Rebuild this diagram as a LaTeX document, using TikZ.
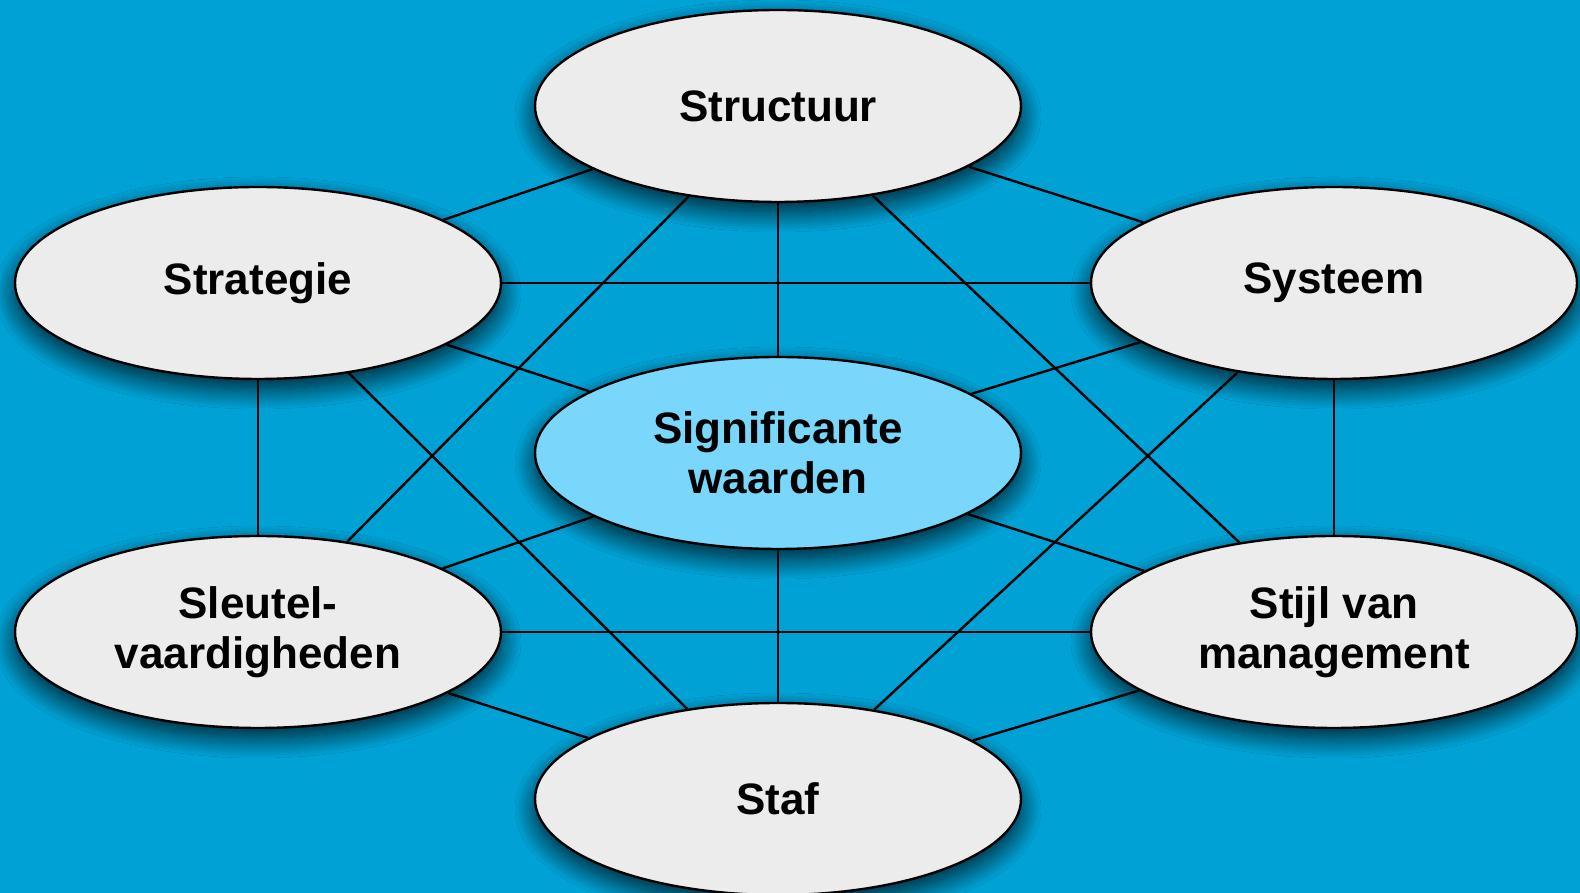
\documentclass[tikz,border=0pt]{standalone}
\usepackage{fontspec}
\setmainfont{Liberation Sans}
\usepackage{xcolor}
\usetikzlibrary{shapes.geometric,shadows.blur,backgrounds}
\definecolor{sevenblue}{RGB}{0, 161, 212}
\definecolor{sevengrey}{RGB}{236, 236, 236}
\definecolor{sevenlight}{RGB}{122, 215, 252}

\begin{document}
\begin{tikzpicture}[x=1pt, y=1pt,
    element/.style={ellipse, draw=black, line width=1.2pt, fill=sevengrey,
        minimum width=243pt, minimum height=96pt, inner sep=0pt,
        font=\fontsize{22}{25}\selectfont\bfseries, align=center,
        blur shadow={shadow xshift=0pt, shadow yshift=-5pt,
            shadow blur radius=10pt, shadow blur steps=20, shadow opacity=80}},
    link/.style={draw=black, line width=1.2pt}]
    \useasboundingbox (0,0) rectangle (790,446.5);

    % outer elements
    \node[element] (structuur) at (389,393.5) {Structuur};
    \node[element] (strategie) at (129,305) {Strategie};
    \node[element] (systeem) at (667,305) {Systeem};
    \node[element] (sleutel) at (129,130.5) {Sleutel-\\vaardigheden};
    \node[element] (stijl) at (667,130.5) {Stijl van\\management};
    \node[element] (staf) at (389,47) {Staf};

    % shared values in the middle
    \node[element, fill=sevenlight] (waarden) at (389,220) {Significante\\waarden};

    % links behind the ellipses
    \begin{pgfonlayer}{background}
        \fill[sevenblue] (0,0) rectangle (790,446.5);
        \foreach \a/\b in {structuur/strategie, structuur/systeem, structuur/sleutel,
            structuur/stijl, strategie/systeem, strategie/sleutel, strategie/staf,
            systeem/stijl, systeem/staf, sleutel/stijl, sleutel/staf, stijl/staf}
            \draw[link] (\a) -- (\b);
        \foreach \a in {structuur, strategie, systeem, sleutel, stijl, staf}
            \draw[link] (\a) -- (waarden);
    \end{pgfonlayer}
\end{tikzpicture}
\end{document}
